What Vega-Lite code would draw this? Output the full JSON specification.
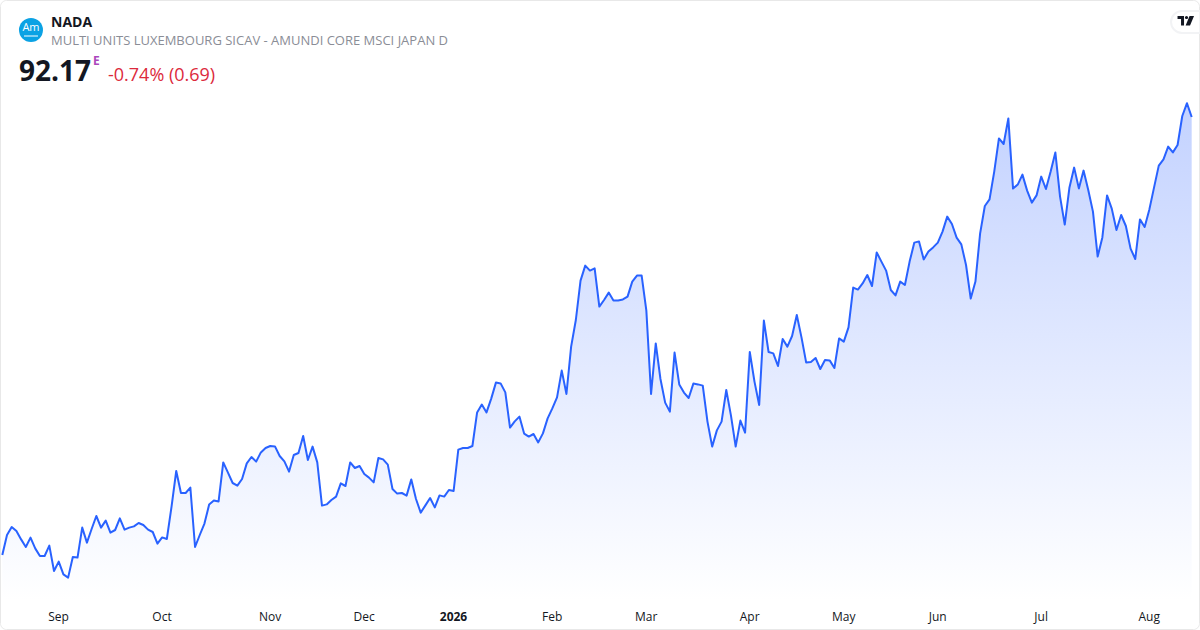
{
  "$schema": "https://vega.github.io/schema/vega-lite/v6.json",
  "description": "NADA daily close, one year, area with line",
  "width": 1200,
  "height": 540,
  "autosize": "none",
  "padding": {"left": 0, "top": 60, "right": 0, "bottom": 30},
  "background": "#ffffff",
  "title": {
    "text": "NADA",
    "subtitle": "MULTI UNITS LUXEMBOURG SICAV - AMUNDI CORE MSCI JAPAN D",
    "anchor": "start",
    "frame": "group",
    "dx": 51,
    "offset": -48,
    "font": "Open Sans",
    "fontSize": 14,
    "fontWeight": 700,
    "color": "#131722",
    "subtitleFont": "Open Sans",
    "subtitleFontSize": 13,
    "subtitleColor": "#8a8d96",
    "subtitlePadding": 5
  },
  "config": {"view": {"stroke": null}},
  "datasets": {
    "closes": [
      {"session":0,"close":70.27},{"session":1,"close":71.27},{"session":2,"close":71.67},{"session":3,"close":71.47},{"session":4,"close":71.05},{"session":5,"close":70.67},{"session":6,"close":71.14},{"session":7,"close":70.60},{"session":8,"close":70.22},{"session":9,"close":70.22},
      {"session":10,"close":70.74},{"session":11,"close":69.47},{"session":12,"close":69.94},{"session":13,"close":69.30},{"session":14,"close":69.14},{"session":15,"close":70.17},{"session":16,"close":70.14},{"session":17,"close":71.64},{"session":18,"close":70.89},{"session":19,"close":71.57},
      {"session":20,"close":72.22},{"session":21,"close":71.64},{"session":22,"close":71.99},{"session":23,"close":71.39},{"session":24,"close":71.52},{"session":25,"close":72.10},{"session":26,"close":71.54},{"session":27,"close":71.64},{"session":28,"close":71.70},{"session":29,"close":71.87},
      {"session":30,"close":71.77},{"session":31,"close":71.54},{"session":32,"close":71.42},{"session":33,"close":70.84},{"session":34,"close":71.15},{"session":35,"close":71.07},{"session":36,"close":72.69},{"session":37,"close":74.47},{"session":38,"close":73.37},{"session":39,"close":73.37},
      {"session":40,"close":73.64},{"session":41,"close":70.67},{"session":42,"close":71.27},{"session":43,"close":71.84},{"session":44,"close":72.79},{"session":45,"close":72.99},{"session":46,"close":72.94},{"session":47,"close":74.90},{"session":48,"close":74.39},{"session":49,"close":73.87},
      {"session":50,"close":73.74},{"session":51,"close":74.07},{"session":52,"close":74.85},{"session":53,"close":75.17},{"session":54,"close":74.94},{"session":55,"close":75.40},{"session":56,"close":75.62},{"session":57,"close":75.72},{"session":58,"close":75.70},{"session":59,"close":75.22},
      {"session":60,"close":74.95},{"session":61,"close":74.44},{"session":62,"close":75.27},{"session":63,"close":75.37},{"session":64,"close":76.22},{"session":65,"close":75.02},{"session":66,"close":75.69},{"session":67,"close":74.90},{"session":68,"close":72.74},{"session":69,"close":72.80},
      {"session":70,"close":73.02},{"session":71,"close":73.19},{"session":72,"close":73.85},{"session":73,"close":73.72},{"session":74,"close":74.90},{"session":75,"close":74.62},{"session":76,"close":74.72},{"session":77,"close":74.32},{"session":78,"close":74.14},{"session":79,"close":73.90},
      {"session":80,"close":75.12},{"session":81,"close":75.05},{"session":82,"close":74.79},{"session":83,"close":73.57},{"session":84,"close":73.34},{"session":85,"close":73.37},{"session":86,"close":73.24},{"session":87,"close":74.05},{"session":88,"close":73.07},{"session":89,"close":72.39},
      {"session":90,"close":72.75},{"session":91,"close":73.12},{"session":92,"close":72.65},{"session":93,"close":73.25},{"session":94,"close":73.19},{"session":95,"close":73.52},{"session":96,"close":73.47},{"session":97,"close":75.54},{"session":98,"close":75.62},{"session":99,"close":75.62},
      {"session":100,"close":75.72},{"session":101,"close":77.40},{"session":102,"close":77.79},{"session":103,"close":77.40},{"session":104,"close":78.09},{"session":105,"close":78.89},{"session":106,"close":78.85},{"session":107,"close":78.40},{"session":108,"close":76.64},{"session":109,"close":76.95},
      {"session":110,"close":77.19},{"session":111,"close":76.34},{"session":112,"close":76.19},{"session":113,"close":76.32},{"session":114,"close":75.90},{"session":115,"close":76.35},{"session":116,"close":77.10},{"session":117,"close":77.60},{"session":118,"close":78.15},{"session":119,"close":79.49},
      {"session":120,"close":78.32},{"session":121,"close":80.69},{"session":122,"close":82.02},{"session":123,"close":83.99},{"session":124,"close":84.74},{"session":125,"close":84.49},{"session":126,"close":84.60},{"session":127,"close":82.69},{"session":128,"close":83.02},{"session":129,"close":83.39},
      {"session":130,"close":82.99},{"session":131,"close":83.00},{"session":132,"close":83.05},{"session":133,"close":83.19},{"session":134,"close":83.94},{"session":135,"close":84.24},{"session":136,"close":84.24},{"session":137,"close":82.49},{"session":138,"close":78.32},{"session":139,"close":80.85},
      {"session":140,"close":79.07},{"session":141,"close":77.89},{"session":142,"close":77.44},{"session":143,"close":80.39},{"session":144,"close":78.80},{"session":145,"close":78.39},{"session":146,"close":78.12},{"session":147,"close":78.84},{"session":148,"close":78.80},{"session":149,"close":78.74},
      {"session":150,"close":76.94},{"session":151,"close":75.69},{"session":152,"close":76.50},{"session":153,"close":76.94},{"session":154,"close":78.52},{"session":155,"close":77.24},{"session":156,"close":75.69},{"session":157,"close":76.99},{"session":158,"close":76.39},{"session":159,"close":80.42},
      {"session":160,"close":78.94},{"session":161,"close":77.77},{"session":162,"close":81.99},{"session":163,"close":80.42},{"session":164,"close":80.35},{"session":165,"close":79.72},{"session":166,"close":81.07},{"session":167,"close":80.69},{"session":168,"close":81.22},{"session":169,"close":82.27},
      {"session":170,"close":81.15},{"session":171,"close":79.89},{"session":172,"close":79.92},{"session":173,"close":80.12},{"session":174,"close":79.57},{"session":175,"close":80.02},{"session":176,"close":80.00},{"session":177,"close":79.62},{"session":178,"close":81.10},{"session":179,"close":80.94},
      {"session":180,"close":81.65},{"session":181,"close":83.64},{"session":182,"close":83.54},{"session":183,"close":83.85},{"session":184,"close":84.27},{"session":185,"close":83.72},{"session":186,"close":85.40},{"session":187,"close":84.94},{"session":188,"close":84.49},{"session":189,"close":83.52},
      {"session":190,"close":83.25},{"session":191,"close":83.94},{"session":192,"close":83.77},{"session":193,"close":84.94},{"session":194,"close":85.89},{"session":195,"close":85.95},{"session":196,"close":85.05},{"session":197,"close":85.44},{"session":198,"close":85.65},{"session":199,"close":85.89},
      {"session":200,"close":86.44},{"session":201,"close":87.19},{"session":202,"close":86.82},{"session":203,"close":86.14},{"session":204,"close":85.80},{"session":205,"close":84.77},{"session":206,"close":83.09},{"session":207,"close":83.94},{"session":208,"close":86.35},{"session":209,"close":87.72},
      {"session":210,"close":88.05},{"session":211,"close":89.44},{"session":212,"close":91.10},{"session":213,"close":90.82},{"session":214,"close":92.10},{"session":215,"close":88.59},{"session":216,"close":88.79},{"session":217,"close":89.29},{"session":218,"close":88.49},{"session":219,"close":87.89},
      {"session":220,"close":88.25},{"session":221,"close":89.19},{"session":222,"close":88.57},{"session":223,"close":89.44},{"session":224,"close":90.40},{"session":225,"close":88.19},{"session":226,"close":86.79},{"session":227,"close":88.65},{"session":228,"close":89.64},{"session":229,"close":88.60},
      {"session":230,"close":89.49},{"session":231,"close":88.52},{"session":232,"close":87.44},{"session":233,"close":85.19},{"session":234,"close":86.15},{"session":235,"close":88.25},{"session":236,"close":87.59},{"session":237,"close":86.52},{"session":238,"close":87.27},{"session":239,"close":86.72},
      {"session":240,"close":85.59},{"session":241,"close":85.07},{"session":242,"close":87.05},{"session":243,"close":86.67},{"session":244,"close":87.55},{"session":245,"close":88.65},{"session":246,"close":89.74},{"session":247,"close":90.05},{"session":248,"close":90.69},{"session":249,"close":90.40},
      {"session":250,"close":90.77},{"session":251,"close":92.22},{"session":252,"close":92.86},{"session":253,"close":92.17}
    ],
    "one": [{}]
  },
  "layer": [
    {
      "data": {"name": "closes"},
      "mark": {
        "type": "area",
        "color": {
          "gradient": "linear",
          "x1": 0, "y1": 0, "x2": 0, "y2": 1,
          "stops": [
            {"offset": 0, "color": "#c3d2ff"},
            {"offset": 1, "color": "#ffffff"}
          ]
        }
      },
      "encoding": {
        "x": {
          "field": "session",
          "type": "quantitative",
          "scale": {"domain": [-0.49, 254.77], "nice": false, "zero": false},
          "axis": {
            "title": null,
            "domain": false,
            "ticks": false,
            "grid": false,
            "values": [12, 34, 57, 77, 96, 117, 137, 159, 179, 199, 221, 244],
            "labelExpr": "{'12':'Sep','34':'Oct','57':'Nov','77':'Dec','96':'2026','117':'Feb','137':'Mar','159':'Apr','179':'May','199':'Jun','221':'Jul','244':'Aug'}[datum.value]",
            "labelFont": "Open Sans",
            "labelFontSize": 12,
            "labelColor": "#131722",
            "labelFontWeight": {"condition": {"test": "datum.value === 96", "value": "bold"}, "value": "normal"},
            "labelPadding": 11,
            "labelOffset": -0.6,
            "labelOverlap": false,
            "labelFlush": false
          }
        },
        "y": {
          "field": "close",
          "type": "quantitative",
          "scale": {"domain": [68.02, 95.02], "nice": false, "zero": false},
          "axis": null
        },
        "y2": {"datum": 68.02}
      }
    },
    {
      "data": {"name": "closes"},
      "mark": {"type": "line", "color": "#2962ff", "strokeWidth": 2, "strokeJoin": "round"},
      "encoding": {
        "x": {"field": "session", "type": "quantitative"},
        "y": {"field": "close", "type": "quantitative"}
      }
    },
    {
      "data": {"name": "one"},
      "mark": {"type": "rect", "fill": null, "stroke": "#e8e8e8", "strokeWidth": 1, "cornerRadius": 6},
      "encoding": {
        "x": {"datum": -0.383},
        "x2": {"datum": 254.66},
        "y": {"datum": 97.995},
        "y2": {"datum": 66.545}
      }
    },
    {
      "data": {"name": "one"},
      "mark": {"type": "point", "shape": "circle", "filled": true, "opacity": 1, "size": 576, "color": "#0ba2e4"},
      "encoding": {"x": {"datum": 6.1}, "y": {"datum": 96.52}}
    },
    {
      "data": {"name": "one"},
      "mark": {"type": "text", "text": "Am", "font": "Open Sans", "fontSize": 11, "color": "#ffffff", "align": "center", "baseline": "middle"},
      "encoding": {"x": {"datum": 6.1}, "y": {"datum": 96.6}}
    },
    {
      "data": {"name": "one"},
      "mark": {"type": "rule", "color": "#ffffff", "strokeWidth": 1},
      "encoding": {"x": {"datum": 4.62}, "x2": {"datum": 7.59}, "y": {"datum": 96.22}}
    },
    {
      "data": {"name": "one"},
      "mark": {"type": "text", "text": "92.17", "font": "Open Sans", "fontSize": 28, "fontWeight": 700, "color": "#131722", "align": "left", "baseline": "middle"},
      "encoding": {"x": {"datum": 3.55}, "y": {"datum": 94.37}}
    },
    {
      "data": {"name": "one"},
      "mark": {"type": "text", "text": "E", "font": "Open Sans", "fontSize": 12, "fontWeight": 700, "color": "#ab47bc", "align": "left", "baseline": "middle"},
      "encoding": {"x": {"datum": 19.3}, "y": {"datum": 94.97}}
    },
    {
      "data": {"name": "one"},
      "mark": {"type": "text", "text": "-0.74% (0.69)", "font": "Open Sans", "fontSize": 18, "color": "#dc2a3c", "align": "left", "baseline": "middle"},
      "encoding": {"x": {"datum": 22.48}, "y": {"datum": 94.22}}
    },
    {
      "data": {"name": "one"},
      "mark": {
        "type": "point",
        "filled": true,
        "opacity": 1,
        "size": 6400,
        "fill": "#ffffff",
        "stroke": "#f2f3f5",
        "strokeWidth": 2,
        "shape": "M0.25,-0.275 H-0.2 A0.275,0.275 0 0 0 -0.2,0.275 H0.25 Z"
      },
      "encoding": {"x": {"datum": 252.65}, "y": {"datum": 96.92}}
    },
    {
      "data": {"name": "one"},
      "mark": {
        "type": "point",
        "filled": true,
        "opacity": 1,
        "size": 6400,
        "color": "#131722",
        "shape": "M-0.3125,-0.15 H-0.15 V0.0875 H-0.225 V-0.075 H-0.3125 Z M-0.1275,-0.1125 a0.04,0.04 0 1 0 0.08,0 a0.04,0.04 0 1 0 -0.08,0 Z M-0.0125,-0.15 H0.1 L0,0.0875 H-0.11 Z"
      },
      "encoding": {"x": {"datum": 252.65}, "y": {"datum": 96.92}}
    }
  ]
}
